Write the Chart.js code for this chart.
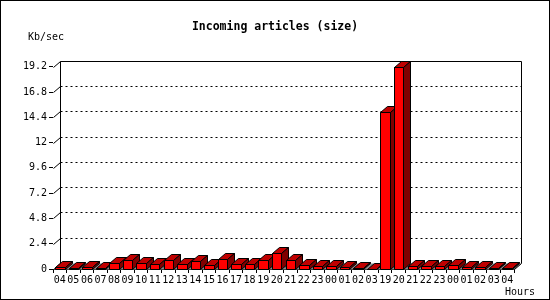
<!DOCTYPE html>
<html>
<head>
<meta charset="utf-8">
<script src="https://cdn.jsdelivr.net/npm/chart.js@4.4.0/dist/chart.umd.min.js"></script>
<style>
  html, body { margin: 0; padding: 0; background: #fff; }
  canvas { display: block; }
</style>
</head>
<body>
<canvas id="sizechart" width="550" height="300"></canvas>
<script>
const hours = ['04', '05', '06', '07', '08', '09', '10', '11', '12', '13', '14', '15', '16', '17', '18', '19', '20', '21', '22', '23',
  '00', '01', '02', '03', '19', '20', '21', '22', '23', '00', '01', '02', '03', '04'];
const kbPerSec = [0.2, 0.05, 0.2, 0.05, 0.55, 0.85, 0.55, 0.45, 0.85, 0.45, 0.75, 0.35, 0.95, 0.45, 0.45, 0.85, 1.5, 0.85, 0.35, 0.25,
  0.25, 0.2, 0.05, 0.02, 14.9, 19.2, 0.25, 0.25, 0.25, 0.35, 0.2, 0.2, 0.1, 0.1];
const yTicks = [0, 2.4, 4.8, 7.2, 9.6, 12, 14.4, 16.8, 19.2];

const DX = 7, DY = 6;
const MONO = '"DejaVu Sans Mono", monospace';

function poly(c, pts, fill) {
  c.beginPath();
  c.moveTo(pts[0][0], pts[0][1]);
  for (let i = 1; i < pts.length; i++) c.lineTo(pts[i][0], pts[i][1]);
  c.closePath();
  c.fillStyle = fill;
  c.fill();
  c.stroke();
}

// fake 3d: back wall, floor and bar faces
const box3d = {
  id: 'box3d',
  beforeDraw(chart) {
    const c = chart.ctx;
    c.save();
    c.fillStyle = '#fff';
    c.fillRect(0, 0, chart.width, chart.height);
    c.strokeStyle = '#000';
    c.lineWidth = 1;
    c.strokeRect(0.5, 0.5, chart.width - 1, chart.height - 1);
    c.restore();
  },
  beforeDatasetsDraw(chart) {
    const c = chart.ctx, a = chart.chartArea, y = chart.scales.y;
    const l = Math.round(a.left) + 0.5, r = Math.round(a.right) + 0.5;
    const t = Math.round(a.top) + 0.5, b = Math.round(a.bottom) + 0.5;
    c.save();
    c.strokeStyle = '#000';
    c.lineWidth = 1;
    c.setLineDash([2, 3]);
    yTicks.slice(1, -1).forEach(v => {
      const py = Math.round(y.getPixelForValue(v)) + 0.5 - DY;
      c.beginPath(); c.moveTo(l + DX, py); c.lineTo(r + DX, py); c.stroke();
    });
    c.setLineDash([]);
    c.beginPath();
    c.moveTo(l + DX, b - DY); c.lineTo(l + DX, t - DY);
    c.lineTo(r + DX, t - DY); c.lineTo(r + DX, b - DY);
    c.stroke();
    yTicks.forEach(v => {
      const py = Math.round(y.getPixelForValue(v)) + 0.5;
      c.beginPath(); c.moveTo(l, py); c.lineTo(l + DX, py - DY); c.stroke();
    });
    c.fillStyle = '#8c8c8c';
    c.beginPath();
    c.moveTo(l, b); c.lineTo(r, b); c.lineTo(r + DX, b - DY); c.lineTo(l + DX, b - DY);
    c.closePath();
    c.fill();
    c.beginPath(); c.moveTo(r, b); c.lineTo(r + DX, b - DY); c.stroke();
    c.restore();
  },
  afterDatasetsDraw(chart) {
    const c = chart.ctx;
    c.save();
    c.strokeStyle = '#000';
    c.lineWidth = 1;
    chart.getDatasetMeta(0).data.forEach(bar => {
      const p = bar.getProps(['x', 'y', 'base', 'width'], true);
      const xl = Math.round(p.x - p.width / 2) + 0.5;
      const xr = Math.round(p.x + p.width / 2) + 0.5;
      const yt = Math.round(p.y) + 0.5;
      const yb = Math.round(p.base) + 0.5;
      poly(c, [[xl, yt], [xr, yt], [xr, yb], [xl, yb]], '#ff0000');
      poly(c, [[xl, yt], [xl + DX, yt - DY], [xr + DX, yt - DY], [xr, yt]], '#c00000');
      poly(c, [[xr, yt], [xr + DX, yt - DY], [xr + DX, yb - DY], [xr, yb]], '#800000');
    });
    c.restore();
  },
  afterDraw(chart) {
    const c = chart.ctx;
    c.save();
    c.fillStyle = '#000';
    c.font = '10px ' + MONO;
    c.textBaseline = 'middle';
    c.textAlign = 'left';
    c.fillText('Kb/sec', 28, 37);
    c.fillText('Hours', 505, 292);
    c.restore();
  }
};

new Chart(document.getElementById('sizechart'), {
  type: 'bar',
  data: {
    labels: hours,
    datasets: [{
      data: kbPerSec,
      backgroundColor: '#ff0000',
      borderColor: '#000',
      borderWidth: 1,
      barPercentage: 0.7,
      categoryPercentage: 1.0
    }]
  },
  options: {
    responsive: false,
    animation: false,
    layout: { padding: 0 },
    plugins: {
      legend: { display: false },
      tooltip: { enabled: false },
      title: {
        display: true,
        text: 'Incoming articles (size)',
        color: '#000',
        font: { family: MONO, size: 11.5, weight: 'bold' },
        padding: { top: 20, bottom: 33 }
      }
    },
    scales: {
      x: {
        grid: { display: true, drawOnChartArea: false, drawTicks: true, tickLength: 4, color: '#000', offset: true },
        border: { display: true, color: '#000' },
        ticks: { autoSkip: false, maxRotation: 0, minRotation: 0, padding: 1, color: '#000', font: { family: MONO, size: 10 } },
        afterFit(s) { s.height = 31; }
      },
      y: {
        min: 0,
        max: 19.2,
        afterBuildTicks(s) { s.ticks = yTicks.map(v => ({ value: v })); },
        grid: { drawOnChartArea: false, drawTicks: true, tickLength: 4, color: '#000' },
        border: { display: false },
        ticks: { padding: 2, color: '#000', font: { family: MONO, size: 10 }, callback: v => String(v) },
        afterFit(s) { s.width = 53; }
      },
      // empty right axis, only reserves the margin right of the plot
      spacer: {
        position: 'right',
        min: 0,
        max: 19.2,
        grid: { display: false },
        border: { display: false },
        ticks: { display: false },
        afterFit(s) { s.width = 36; }
      }
    }
  },
  plugins: [box3d]
});
</script>
</body>
</html>
